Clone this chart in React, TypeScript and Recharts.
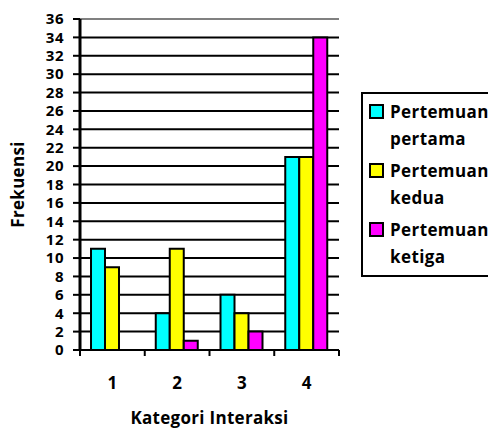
import { BarChart, Bar, XAxis, YAxis, CartesianGrid, Legend, ReferenceLine } from "recharts";

const categories = ["1", "2", "3", "4"];
const pertama = [11, 4, 6, 21];
const kedua = [9, 11, 4, 21];
const ketiga = [0, 1, 2, 34];
const yTicks = [0, 2, 4, 6, 8, 10, 12, 14, 16, 18, 20, 22, 24, 26, 28, 30, 32, 34, 36];

const seriesNames = ["Pertemuan pertama", "Pertemuan kedua", "Pertemuan ketiga"];
const seriesColors = ["#00FFFF", "#FFFF00", "#FF00FF"];

const data = categories.map((c, i) => ({
  name: c,
  pertama: pertama[i],
  kedua: kedua[i],
  ketiga: ketiga[i],
}));

const FONT = "'Open Sans', 'DejaVu Sans', sans-serif";
const W = 488;
const H = 429;
const LEGEND_W = 140;
// legend sits on the right, its width counts toward the right offset
const M = { top: 19, right: 9, left: 0, bottom: 0 };
const Y_W = 80;
const X_H = 79;
const plotW = W - M.left - M.right - LEGEND_W - Y_W;
const band = plotW / categories.length;

function XTick(props: any) {
  const { x, y, payload, index } = props;
  const left = x - band / 2;
  return (
    <g>
      <line x1={left} x2={left} y1={y} y2={y + 6} stroke="#000" strokeWidth={2} />
      {index === categories.length - 1 && (
        <line x1={x + band / 2} x2={x + band / 2} y1={y} y2={y + 6} stroke="#000" strokeWidth={2} />
      )}
      <text x={x} y={y + 39} textAnchor="middle" fontFamily={FONT} fontWeight={700} fontSize={17} fill="#000">
        {payload.value}
      </text>
    </g>
  );
}

function LegendBox() {
  return (
    <div
      style={{
        border: "2px solid #000",
        background: "#fff",
        padding: "4px 0 5px 6px",
        width: LEGEND_W,
        boxSizing: "border-box",
        fontFamily: FONT,
        fontWeight: 700,
        fontSize: 17,
        letterSpacing: 0.4,
        lineHeight: "27px",
        color: "#000",
        whiteSpace: "nowrap",
        textAlign: "left",
      }}
    >
      {seriesNames.map((n, i) => {
        const [a, b] = n.split(" ");
        return (
          <div key={n} style={{ display: "flex", alignItems: "flex-start", marginBottom: i < 2 ? 5 : 0 }}>
            <span
              style={{
                display: "inline-block",
                width: 11,
                height: 11,
                marginTop: 6,
                marginRight: 6,
                border: "2px solid #000",
                background: seriesColors[i],
                flexShrink: 0,
              }}
            />
            <span>
              {a}
              <br />
              {b}
            </span>
          </div>
        );
      })}
    </div>
  );
}

export default function App() {
  return (
    <div style={{ position: "absolute", left: 0, top: 0, width: W, height: H, background: "#fff", overflow: "hidden" }}>
      <BarChart width={W} height={H} data={data} margin={M} barGap={0} barCategoryGap="17%">
        <CartesianGrid vertical={false} stroke="#000" strokeWidth={2} />
        <XAxis
          dataKey="name"
          height={X_H}
          axisLine={{ stroke: "#000", strokeWidth: 2 }}
          tickLine={false}
          tickSize={0}
          tickMargin={0}
          tick={<XTick />}
          interval={0}
          label={{
            value: "Kategori Interaksi",
            position: "insideBottom",
            offset: 0,
            dy: -5,
            fontFamily: FONT,
            fontWeight: 700,
            fontSize: 17,
            letterSpacing: 0.3,
            fill: "#000",
          }}
        />
        <YAxis
          width={Y_W}
          domain={[0, 36]}
          ticks={yTicks}
          interval={0}
          axisLine={{ stroke: "#000", strokeWidth: 3 }}
          tickLine={{ stroke: "#000", strokeWidth: 2 }}
          tickSize={7}
          tickMargin={9}
          tick={{ fontFamily: FONT, fontWeight: 700, fontSize: 15, letterSpacing: 0.5, fill: "#000" }}
          label={{
            value: "Frekuensi",
            angle: -90,
            position: "insideLeft",
            offset: 18,
            style: { textAnchor: "middle" },
            fontFamily: FONT,
            fontWeight: 700,
            fontSize: 17,
            letterSpacing: 0.3,
            fill: "#000",
          }}
        />
        <YAxis
          yAxisId="border"
          orientation="right"
          width={0}
          domain={[0, 36]}
          tick={false}
          tickLine={false}
          axisLine={{ stroke: "#808080", strokeWidth: 2 }}
        />
        <ReferenceLine y={36} stroke="#808080" strokeWidth={2} />
        <Legend
          layout="vertical"
          verticalAlign="top"
          align="right"
          content={() => <LegendBox />}
          wrapperStyle={{ left: 361, top: 92, width: LEGEND_W }}
        />
        <Bar dataKey="pertama" name={seriesNames[0]} fill={seriesColors[0]} stroke="#000" strokeWidth={2} isAnimationActive={false} />
        <Bar dataKey="kedua" name={seriesNames[1]} fill={seriesColors[1]} stroke="#000" strokeWidth={2} isAnimationActive={false} />
        <Bar dataKey="ketiga" name={seriesNames[2]} fill={seriesColors[2]} stroke="#000" strokeWidth={2} isAnimationActive={false} />
      </BarChart>
    </div>
  );
}
